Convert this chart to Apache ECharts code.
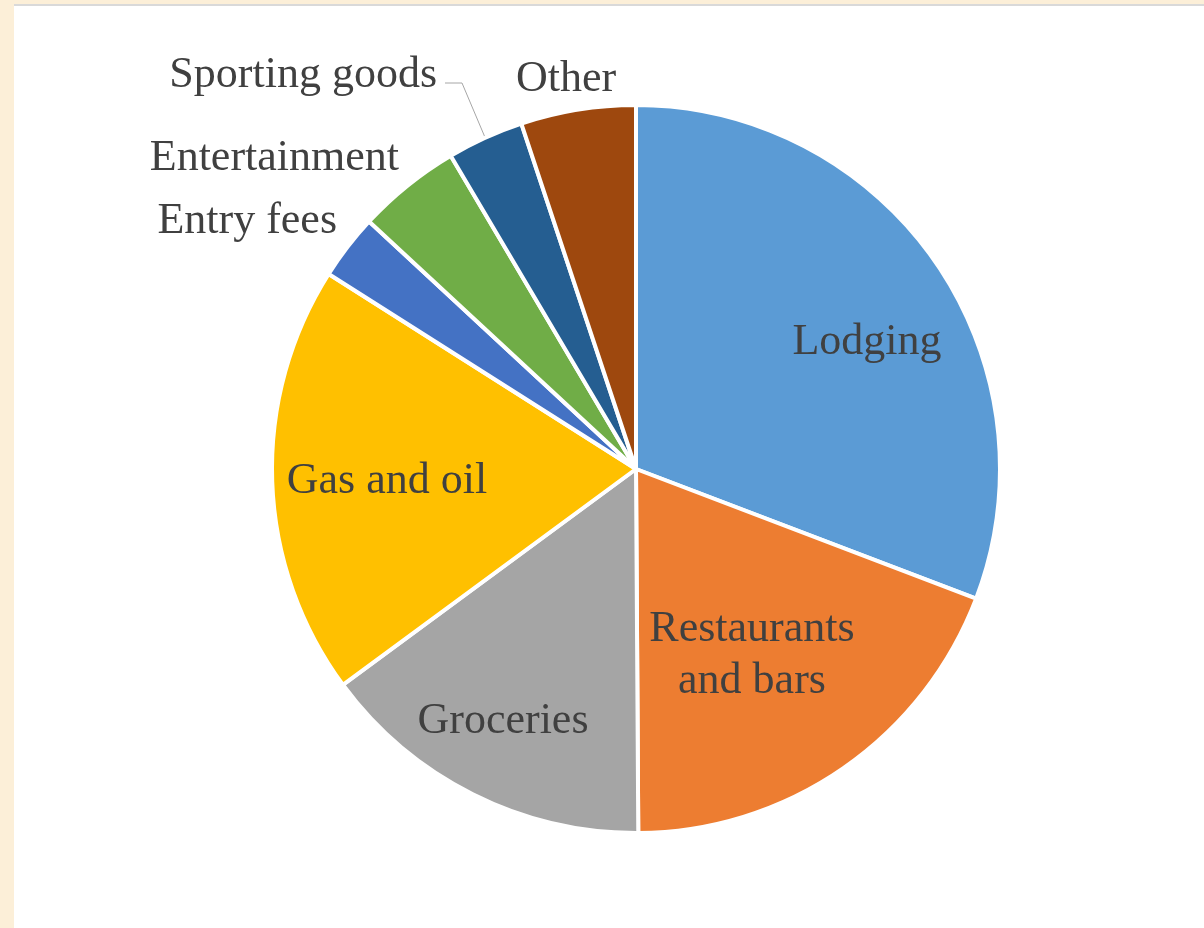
<!DOCTYPE html>
<html>
<head>
<meta charset="utf-8">
<title>Spending by category</title>
<script src="https://cdn.jsdelivr.net/npm/echarts@6/dist/echarts.min.js"></script>
<style>
  html, body { margin: 0; padding: 0; width: 1204px; height: 928px; overflow: hidden; background: #fcefd8; }
  #panel { position: absolute; left: 14px; top: 4px; right: 0; bottom: 0; background: #ffffff; border-top: 2px solid #d9d9d9; }
  #chart { position: absolute; left: 0; top: 0; width: 1204px; height: 928px; }
</style>
</head>
<body>
<div id="panel"></div>
<div id="chart"></div>
<script>
// Spending categories and their share of the total (percent)
const categories = ['Lodging', 'Restaurants and bars', 'Groceries', 'Gas and oil', 'Entry fees', 'Entertainment', 'Sporting goods', 'Other'];
const shares = [30.8, 19.1, 15.0, 19.1, 2.9, 4.6, 3.4, 5.1];

// Office-style palette, one colour per category
const palette = ['#5B9BD5', '#ED7D31', '#A5A5A5', '#FFC000', '#4472C4', '#70AD47', '#255E91', '#9E480E'];

// Pie geometry (pixels)
const CX = 636, CY = 469, R = 364;

// Where each category's name is placed
const labelSpots = {
  'Lodging':              { x: 867, y: 342, align: 'center' },
  'Restaurants and bars': { x: 752, y: 655, align: 'center' },
  'Groceries':            { x: 503, y: 721, align: 'center' },
  'Gas and oil':          { x: 387, y: 481, align: 'center' },
  'Entry fees':           { x: 337, y: 221, align: 'right' },
  'Entertainment':        { x: 399, y: 158, align: 'right' },
  'Sporting goods':       { x: 437, y: 75,  align: 'right' },
  'Other':                { x: 566, y: 79,  align: 'center' }
};

const chart = echarts.init(document.getElementById('chart'), null, { renderer: 'canvas' });

const data = categories.map((name, i) => ({
  name: name,
  value: shares[i],
  label: { position: name === 'Sporting goods' ? 'outside' : 'inside' },
  labelLine: { show: name === 'Sporting goods' }
}));

function midAngle(index) {
  const total = shares.reduce((a, b) => a + b, 0);
  let before = 0;
  for (let i = 0; i < index; i++) before += shares[i];
  return (before + shares[index] / 2) / total * Math.PI * 2;
}

chart.setOption({
  animation: false,
  backgroundColor: 'transparent',
  color: palette,
  series: [{
    type: 'pie',
    center: [CX, CY],
    radius: [0, R],
    startAngle: 90,
    clockwise: true,
    avoidLabelOverlap: false,
    silent: true,
    itemStyle: { borderColor: '#ffffff', borderWidth: 4 },
    label: {
      show: true,
      color: '#404040',
      fontFamily: '"Liberation Serif", "Times New Roman", serif',
      fontSize: 44,
      lineHeight: 52,
      formatter: p => p.name === 'Restaurants and bars' ? 'Restaurants\nand bars' : p.name
    },
    labelLine: {
      lineStyle: { color: '#a6a6a6', width: 1 }
    },
    labelLayout: function (p) {
      const name = categories[p.dataIndex];
      const s = labelSpots[name];
      const out = { x: s.x, y: s.y, align: s.align, verticalAlign: 'middle' };
      if (name === 'Sporting goods') {
        const a = midAngle(p.dataIndex);
        const ex = CX + R * Math.sin(a);
        const ey = CY - R * Math.cos(a);
        out.labelLinePoints = [[s.x + 8, s.y + 8], [s.x + 25, s.y + 8], [ex, ey]];
      }
      return out;
    },
    data: data
  }]
});
</script>
</body>
</html>
